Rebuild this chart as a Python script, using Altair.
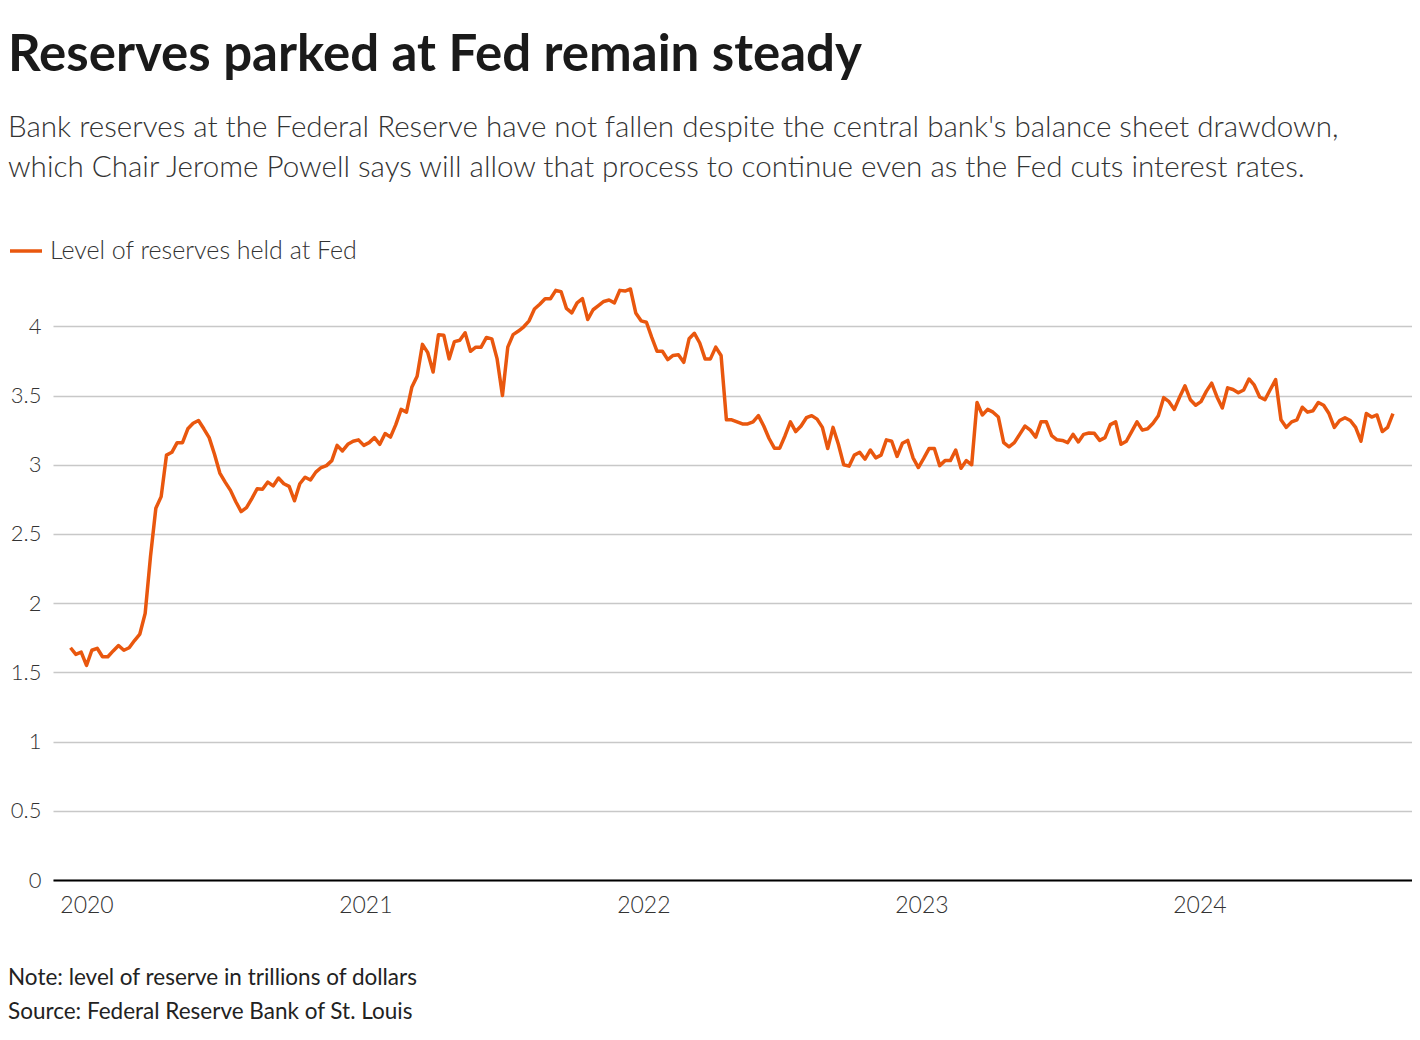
import altair as alt
import pandas as pd

title_text = "Reserves parked at Fed remain steady"
subtitle_lines = [
    "Bank reserves at the Federal Reserve have not fallen despite the central bank's balance sheet drawdown,",
    "which Chair Jerome Powell says will allow that process to continue even as the Fed cuts interest rates.",
]
series_name = "Level of reserves held at Fed"
note_text = "Note: level of reserve in trillions of dollars"
source_text = "Source: Federal Reserve Bank of St. Louis"

# Weekly (Wednesday) level of reserves, trillions of dollars
first_week = "2019-12-11"
reserves = [
    1.678, 1.63, 1.646, 1.55, 1.66, 1.674, 1.613, 1.613, 1.655, 1.694,
    1.66, 1.678, 1.73, 1.777, 1.926, 2.338, 2.686, 2.77, 3.07, 3.09,
    3.16, 3.16, 3.26, 3.30, 3.32, 3.26, 3.196, 3.076, 2.94, 2.875,
    2.815, 2.733, 2.662, 2.69, 2.756, 2.827, 2.823, 2.875, 2.847, 2.904,
    2.863, 2.844, 2.74, 2.863, 2.91, 2.89, 2.947, 2.98, 2.994, 3.03,
    3.14, 3.10, 3.148, 3.17, 3.18, 3.14, 3.16, 3.196, 3.148, 3.226,
    3.20, 3.29, 3.40, 3.38, 3.56, 3.64, 3.87, 3.81, 3.67, 3.94,
    3.936, 3.765, 3.89, 3.90, 3.954, 3.82, 3.85, 3.85, 3.92, 3.91,
    3.765, 3.50, 3.85, 3.94, 3.966, 3.997, 4.04, 4.125, 4.16, 4.20,
    4.20, 4.26, 4.25, 4.13, 4.097, 4.17, 4.20, 4.05, 4.12, 4.15,
    4.18, 4.19, 4.17, 4.26, 4.255, 4.27, 4.097, 4.04, 4.03, 3.92,
    3.82, 3.82, 3.76, 3.79, 3.795, 3.74, 3.91, 3.95, 3.88, 3.765,
    3.765, 3.85, 3.79, 3.325, 3.325, 3.31, 3.295, 3.295, 3.31, 3.355,
    3.28, 3.19, 3.12, 3.12, 3.21, 3.31, 3.24, 3.28, 3.34, 3.355,
    3.33, 3.27, 3.117, 3.27, 3.148, 3.0, 2.99, 3.07, 3.09, 3.04,
    3.107, 3.05, 3.07, 3.18, 3.17, 3.06, 3.155, 3.176, 3.05, 2.98,
    3.046, 3.117, 3.117, 2.994, 3.03, 3.03, 3.107, 2.975, 3.03, 3.0,
    3.45, 3.36, 3.40, 3.38, 3.345, 3.16, 3.13, 3.16, 3.22, 3.28,
    3.25, 3.20, 3.31, 3.31, 3.21, 3.18, 3.176, 3.16, 3.22, 3.165,
    3.22, 3.23, 3.227, 3.176, 3.196, 3.29, 3.31, 3.148, 3.17, 3.24,
    3.31, 3.25, 3.26, 3.30, 3.355, 3.485, 3.456, 3.40, 3.49, 3.57,
    3.47, 3.43, 3.456, 3.53, 3.59, 3.49, 3.41, 3.556, 3.544, 3.52,
    3.54, 3.62, 3.575, 3.49, 3.47, 3.544, 3.615, 3.325, 3.27, 3.31,
    3.325, 3.416, 3.38, 3.39, 3.45, 3.43, 3.37, 3.27, 3.32, 3.34,
    3.32, 3.27, 3.17, 3.37, 3.345, 3.36, 3.24, 3.27, 3.37,
]

x_domain = ["2019-11-18", "2024-10-06"]
year_ticks = [2020, 2021, 2022, 2023, 2024]
y_ticks = [0, 0.5, 1, 1.5, 2, 2.5, 3, 3.5, 4]
y_max = 4.4

dates = pd.date_range(first_week, periods=len(reserves), freq="7D")
df = pd.DataFrame({"date": dates, "reserves": reserves, "series": series_name})

FONT = "Lato"
ORANGE = "#e9570e"
TEXT = "#333333"
W = 1359
H = 609
LEFT = -45

line = alt.Chart(df).mark_line(strokeWidth=3.5, strokeJoin="round").encode(
    x=alt.X(
        "date:T",
        scale=alt.Scale(domain=x_domain),
        axis=alt.Axis(
            values=[alt.DateTime(year=y, month=1, date=1) for y in year_ticks],
            format="%Y",
            title=None,
            grid=False,
            ticks=False,
            domain=True,
            domainColor="#000000",
            domainWidth=2,
            labelFont=FONT,
            labelFontSize=23,
            labelFontWeight=300,
            labelColor=TEXT,
            labelPadding=14,
        ),
    ),
    y=alt.Y(
        "reserves:Q",
        scale=alt.Scale(domain=[0, y_max], nice=False),
        axis=alt.Axis(
            values=y_ticks,
            format=".1~f",
            title=None,
            grid=True,
            gridColor="#c8c8c8",
            gridWidth=1.5,
            ticks=False,
            domain=False,
            labelFont=FONT,
            labelFontSize=22,
            labelFontWeight=300,
            labelColor=TEXT,
            labelPadding=12,
        ),
    ),
    color=alt.Color(
        "series:N",
        scale=alt.Scale(range=[ORANGE]),
        legend=alt.Legend(
            orient="none",
            legendX=LEFT,
            legendY=-38,
            title=None,
            symbolType="stroke",
            symbolStrokeWidth=3.5,
            symbolSize=1024,
            labelFont=FONT,
            labelFontSize=25,
            labelFontWeight=300,
            labelColor=TEXT,
            labelOffset=6,
            labelLimit=0,
        ),
    ),
)

note = alt.Chart(pd.DataFrame({"t": [note_text]})).mark_text(
    align="left", baseline="alphabetic", font=FONT, fontSize=22.5, color="#222222"
).encode(x=alt.value(LEFT), y=alt.value(H + 105), text="t:N")

source = alt.Chart(pd.DataFrame({"t": [source_text]})).mark_text(
    align="left", baseline="alphabetic", font=FONT, fontSize=22.5, color="#222222"
).encode(x=alt.value(LEFT), y=alt.value(H + 139), text="t:N")

chart = (
    alt.layer(line, note, source)
    .properties(
        width=W,
        height=H,
        background="white",
        padding={"left": 0, "top": 22, "right": 0, "bottom": 0},
        title=alt.TitleParams(
            text=title_text,
            subtitle=subtitle_lines,
            anchor="start",
            frame="bounds",
            font=FONT,
            fontSize=51,
            fontWeight=700,
            color="#1a1a1a",
            subtitleFont=FONT,
            subtitleFontSize=29.6,
            subtitleFontWeight=300,
            subtitleColor=TEXT,
            subtitleLineHeight=40,
            subtitlePadding=32,
            offset=49,
        ),
    )
    .configure_view(stroke=None)
)

chart.save("out.html", embed_options={"renderer": "svg", "actions": False})
